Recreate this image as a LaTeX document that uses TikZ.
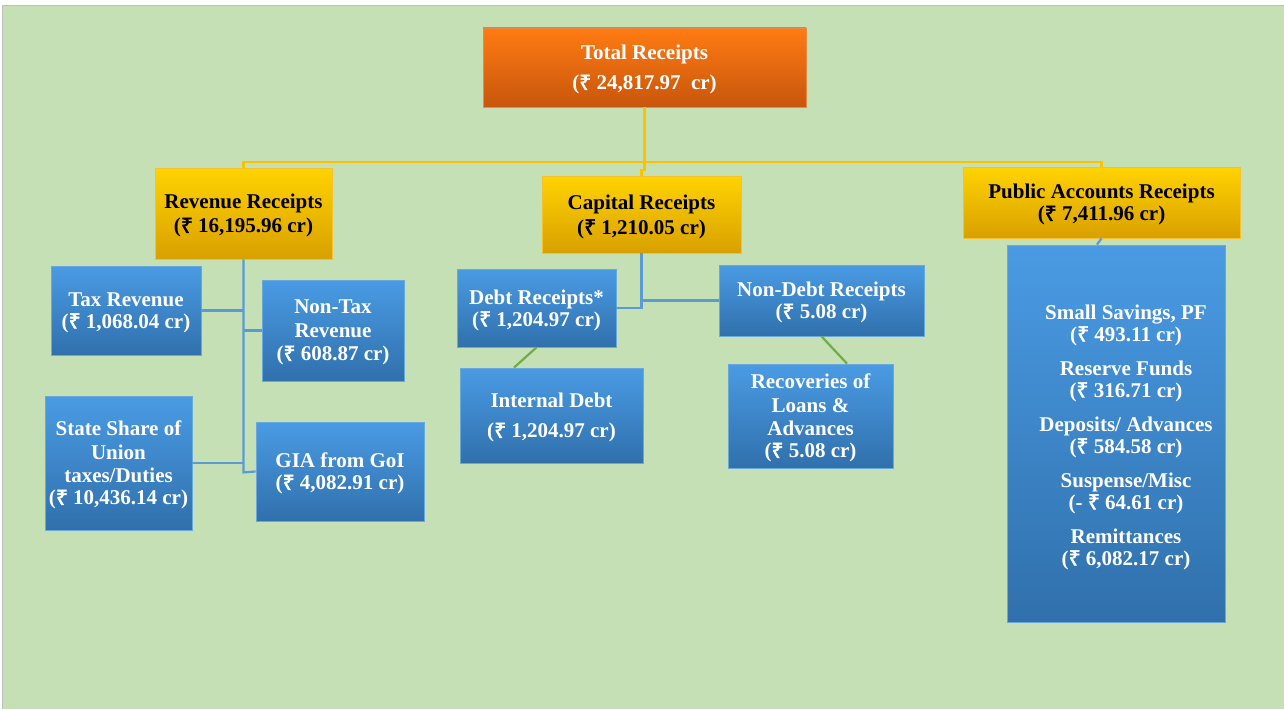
\documentclass[tikz,border=0pt]{standalone}
\usepackage{fontspec}
\setmainfont{Liberation Serif}
\newfontfamily\rsfont[FakeBold=2.5]{Noto Sans}
\definecolor{bggreen}{HTML}{C5E0B4}
\definecolor{frame}{HTML}{BFBFBF}
\definecolor{otop}{HTML}{FF7B13}
\definecolor{obot}{HTML}{C8560C}
\definecolor{oedge}{HTML}{E8894A}
\definecolor{gtop}{HTML}{FFD300}
\definecolor{gbot}{HTML}{D9A000}
\definecolor{gedge}{HTML}{F2C230}
\definecolor{btop}{HTML}{4A9BE4}
\definecolor{bbot}{HTML}{3070AC}
\definecolor{bedge}{HTML}{6AA8DB}
\definecolor{ycon}{HTML}{FFC000}
\definecolor{bcon}{HTML}{5B9BD5}
\definecolor{gcon}{HTML}{70AD47}
\newcommand\rs{{\rsfont\mdseries ₹}}
\begin{document}
\begin{tikzpicture}[x=1pt,y=-1pt,
  basebox/.style={rectangle, inner sep=0pt, align=center, text depth=0pt,
    font=\fontsize{21}{22}\selectfont\bfseries, line width=0.8pt},
  obox/.style={basebox, top color=otop, bottom color=obot, draw=oedge, text=white},
  gbox/.style={basebox, top color=gtop, bottom color=gbot, draw=gedge, text=black},
  bbox/.style={basebox, top color=btop, bottom color=bbot, draw=bedge, text=white},
  yl/.style={draw=ycon, line width=2.2pt},
  bl/.style={draw=bcon, line width=2.2pt},
  gl/.style={draw=gcon, line width=2.2pt}]
\useasboundingbox (0,0) rectangle (1284,709);
\fill[white] (0,0) rectangle (1284,709);
\fill[bggreen] (3,6) rectangle (1284,709);
\draw[frame, line width=1.5pt] (2.5,709) -- (2.5,5.5) -- (1284,5.5);

% top level
\node[obox, minimum width=323pt, minimum height=79pt] (total) at (644.5,67.5)
  {Total Receipts\\[8pt](\rs\ 24,817.97\ \ cr)};
% second level
\node[gbox, minimum width=177pt, minimum height=91pt] (rev) at (243.5,213.5)
  {Revenue Receipts\\[2pt](\rs\ 16,195.96 cr)};
\node[gbox, minimum width=199pt, minimum height=77pt] (cap) at (641.5,214.5)
  {Capital Receipts\\[3pt](\rs\ 1,210.05 cr)};
\node[gbox, minimum width=277pt, minimum height=71pt] (pub) at (1101.5,202.5)
  {Public Accounts Receipts\\(\rs\ 7,411.96 cr)};
% revenue children
\node[bbox, minimum width=150pt, minimum height=89pt] (tax) at (126,310.5)
  {Tax Revenue\\(\rs\ 1,068.04 cr)};
\node[bbox, minimum width=142pt, minimum height=101pt] (ntax) at (333,330.5)
  {Non-Tax\\[1.5pt]Revenue\\[1.5pt](\rs\ 608.87 cr)};
\node[bbox, minimum width=147pt, minimum height=134pt] (state) at (118.5,463)
  {State Share of\\[1.5pt]Union\\[1.5pt]taxes/Duties\\(\rs\ 10,436.14 cr)};
\node[bbox, minimum width=168pt, minimum height=99pt] (gia) at (340,471.5)
  {GIA from GoI\\(\rs\ 4,082.91 cr)};
% capital children
\node[bbox, minimum width=159pt, minimum height=78pt] (debt) at (536.5,308)
  {Debt Receipts*\\(\rs\ 1,204.97 cr)};
\node[bbox, minimum width=183pt, minimum height=95pt] (int) at (551.5,415.5)
  {Internal Debt\\[8pt](\rs\ 1,204.97 cr)};
\node[bbox, minimum width=205pt, minimum height=71pt] (ndebt) at (821.5,300.5)
  {Non-Debt Receipts\\(\rs\ 5.08 cr)};
\node[bbox, minimum width=165pt, minimum height=104pt] (recov) at (810.5,416)
  {Recoveries of\\[1.5pt]Loans \&\\[1.5pt]Advances\\(\rs\ 5.08 cr)};
% public accounts child
\node[bbox, minimum width=218pt, minimum height=377pt] (pa) at (1116,433.5) {};
\node[basebox, text=white] (patext) at (1126,435)
  {Small Savings, PF\\(\rs\ 493.11 cr)\\[12pt]
   Reserve Funds\\(\rs\ 316.71 cr)\\[12pt]
   Deposits/ Advances\\(\rs\ 584.58 cr)\\[12pt]
   Suspense/Misc\\(- \rs\ 64.61 cr)\\[12pt]
   Remittances\\(\rs\ 6,082.17 cr)};

% yellow connectors
\coordinate (bus) at (644.5,162);
\draw[yl] (total.south) -- (bus);
\draw[yl] (rev.north) -- (rev.north |- bus) -- (pub.north |- bus) -- (pub.north);
\draw[yl] (bus) -- ++(0,8) -| (cap.north);

% blue connectors (revenue)
\draw[bl] (rev.south) -- ++(0,213) -- (gia.west);
\draw[bl] (tax.east) -- (tax.east -| rev.south);
\draw[bl] (ntax.west) -- (ntax.west -| rev.south);
\draw[bl] (state.east) -- (state.east -| rev.south);
% blue connectors (capital)
\draw[bl] (cap.south) -- (cap.south |- debt.east) -- (debt.east);
\draw[bl] (ndebt.west) -- (ndebt.west -| cap.south);
% public
\draw[bl] (pub.south) -- ([xshift=-19pt]pa.north);
% green connectors
\draw[gl] (debt.south) -- ([xshift=-37.5pt]int.north);
\draw[gl] (ndebt.south) -- ([xshift=36.5pt]recov.north);
\end{tikzpicture}
\end{document}
